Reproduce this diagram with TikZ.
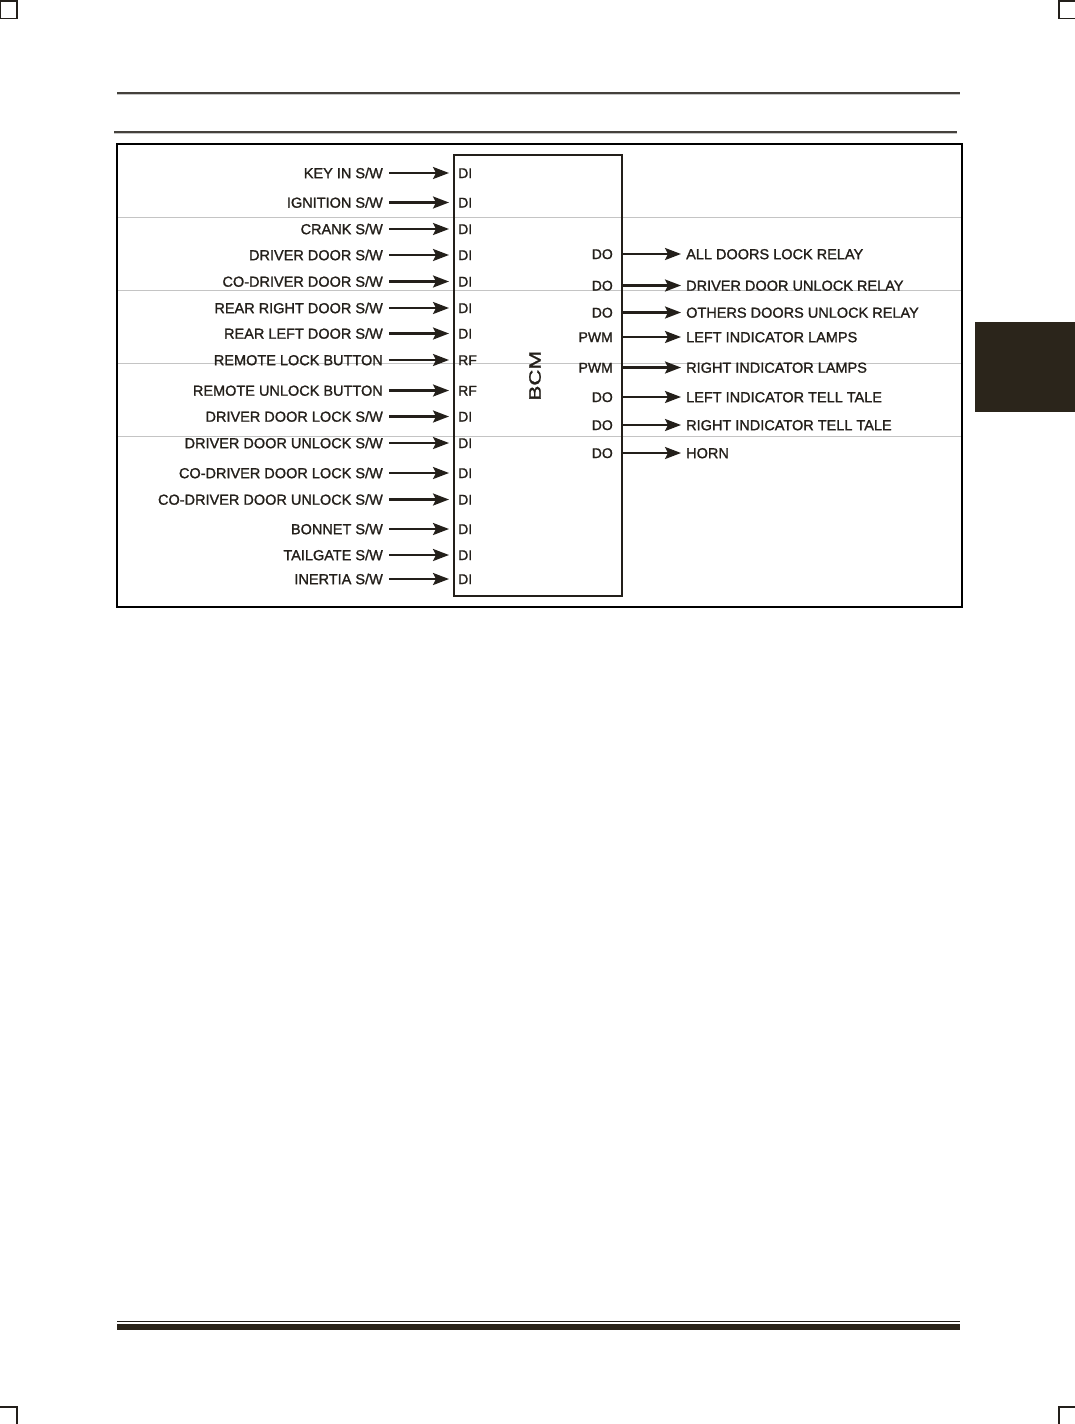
\documentclass[tikz,border=0pt]{standalone}
\usepackage{fontspec}
\setmainfont{Liberation Sans}
\newfontfamily\labfont[RawFeature={embolden=1.3}]{Liberation Sans}
\usetikzlibrary{arrows.meta}
\definecolor{ink}{HTML}{231F1A}
\definecolor{tabc}{HTML}{2B251B}
\definecolor{gridc}{HTML}{C4C4C4}
\newcommand\SWtxt{S/W}
\begin{document}
\begin{tikzpicture}[x=1pt,y=-1pt,
  lab/.style={font=\labfont\fontsize{14.5}{16}\selectfont, text=ink, inner sep=0pt, text height=10.4pt, text depth=0pt},
  pinlab/.style={font=\labfont\fontsize{14}{16}\selectfont, text=ink, inner sep=0pt, text height=10pt, text depth=0pt},
  arr/.style={draw=ink, line width=2.3pt, -{Stealth[length=16pt,width=12pt,inset=3pt]}},
  cropmark/.style={draw=ink, line width=1.3pt},
  hline/.style={draw=ink!85, line width=1.2pt},
  hshadow/.style={draw=gray!45, line width=1pt}
]
\useasboundingbox (0,0) rectangle (1075,1424);
% corner marks
\draw[cropmark] (0.7,1) rectangle (17,18.5);
\draw[cropmark] (1059,1) rectangle (1080,18.5);
\draw[cropmark] (-5,1407) rectangle (17,1430);
\draw[cropmark] (1059,1407) rectangle (1080,1430);
% header lines
\draw[hshadow] (117,94.3) -- (960,94.3);
\draw[hline] (117,93) -- (960,93);
\draw[hshadow] (114,133.3) -- (957,133.3);
\draw[hline] (114,132) -- (957,132);
% side tab
\fill[tabc] (975,322) rectangle (1075,412);
% faint grid lines
\foreach \y in {217.3,290.7,363.3,436} \draw[gridc, line width=0.9pt] (118,\y) -- (961,\y);
% frame
\draw[black, line width=2pt] (117,143.5) rectangle (961.5,606.5);
% BCM box
\node[draw=ink, line width=2pt, minimum width=168pt, minimum height=441pt, inner sep=0pt] (bcm) at (538,375.5) {};
\node[font=\labfont\fontsize{16.5}{18}\selectfont, text=ink, rotate=90, inner sep=0pt] (bcmt) at (535,375.7) {\scalebox{1.35}[1]{BCM}};
% inputs
\foreach \i/\y/\t/\p in {
  1/173/{KEY IN \SWtxt}/DI,
  2/202.5/{IGNITION \SWtxt}/DI,
  3/229/{CRANK \SWtxt}/DI,
  4/255/{DRIVER DOOR \SWtxt}/DI,
  5/281.5/{CO-DRIVER DOOR \SWtxt}/DI,
  6/308/{REAR RIGHT DOOR \SWtxt}/DI,
  7/333.5/{REAR LEFT DOOR \SWtxt}/DI,
  8/360/{REMOTE LOCK BUTTON}/RF,
  9/390.5/{REMOTE UNLOCK BUTTON}/RF,
  10/416.5/{DRIVER DOOR LOCK \SWtxt}/DI,
  11/443/{DRIVER DOOR UNLOCK \SWtxt}/DI,
  12/473/{CO-DRIVER DOOR LOCK \SWtxt}/DI,
  13/499.5/{CO-DRIVER DOOR UNLOCK \SWtxt}/DI,
  14/529/{BONNET \SWtxt}/DI,
  15/555/{TAILGATE \SWtxt}/DI,
  16/579/{INERTIA \SWtxt}/DI}{
  \node[lab, anchor=east] (l\i) at (383,\y) {\t};
  \node[pinlab, anchor=west] (p\i) at (458,\y) {\p};
  \draw[arr] ([xshift=6pt]l\i.east) -- ([xshift=-9pt]p\i.west);
}
% outputs
\foreach \i/\y/\p/\t in {
  1/254/DO/{ALL DOORS LOCK RELAY},
  2/285.5/DO/{DRIVER DOOR UNLOCK RELAY},
  3/312.5/DO/{OTHERS DOORS UNLOCK RELAY},
  4/337/PWM/{LEFT INDICATOR LAMPS},
  5/367.5/PWM/{RIGHT INDICATOR LAMPS},
  6/397/DO/{LEFT INDICATOR TELL TALE},
  7/425/DO/{RIGHT INDICATOR TELL TALE},
  8/453/DO/{HORN}}{
  \node[pinlab, anchor=east] (o\i) at (613,\y) {\p};
  \node[lab, anchor=west] (r\i) at (686,\y) {\t};
  \draw[arr] (o\i.east -| bcm.east) -- ([xshift=-5pt]r\i.west);
}
% footer
\draw[ink, line width=1.5pt] (117,1321.5) -- (960,1321.5);
\fill[tabc] (117,1324) rectangle (960,1330);
\end{tikzpicture}
\end{document}
